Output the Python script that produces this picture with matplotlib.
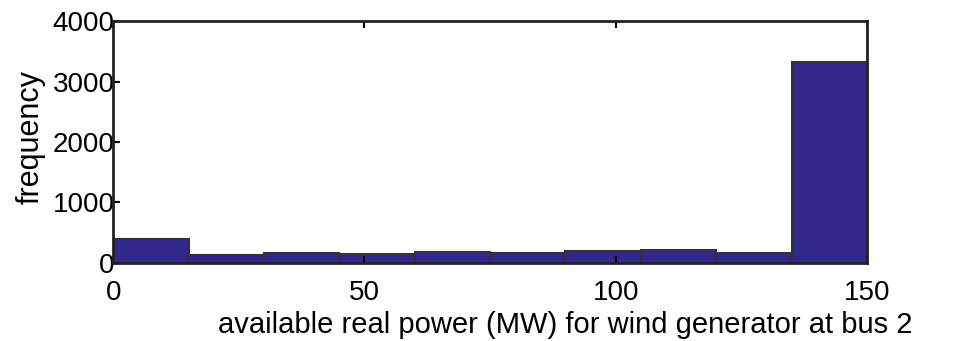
import matplotlib.pyplot as plt

plt.rcParams['font.family'] = ['Liberation Sans', 'DejaVu Sans']

# histogram bins (MW) and counts
bin_edges = [0, 15, 30, 45, 60, 75, 90, 105, 120, 135, 150]
counts = [400, 135, 165, 140, 180, 165, 190, 215, 165, 3330]
xticks = [0, 50, 100, 150]
yticks = [0, 1000, 2000, 3000, 4000]

fig = plt.figure(figsize=(9.59, 3.41), dpi=100)
ax = fig.add_axes([0.118, 0.229, 0.786, 0.709])

ax.hist(bin_edges[:-1], bins=bin_edges, weights=counts,
        color="#32278a", edgecolor="#333333", linewidth=1.5)

ax.set_xlim(0, 150)
ax.set_ylim(0, 4000)
ax.set_xticks(xticks)
ax.set_yticks(yticks)
ax.tick_params(direction="in", length=5, width=1.5, labelsize=20,
               top=True, right=False)
ax.tick_params(axis="y", pad=-1)
ax.tick_params(axis="x", pad=12)
for s in ax.spines.values():
    s.set_linewidth(2)
    s.set_color("#222222")

ax.set_ylabel("frequency", fontsize=22)
ax.yaxis.set_label_coords(-0.09, 0.52)
ax.set_xlabel("available real power (MW) for wind generator at bus 2", fontsize=21)
ax.xaxis.set_label_coords(0.6, -0.2)

fig.savefig("out.png", dpi=100)
